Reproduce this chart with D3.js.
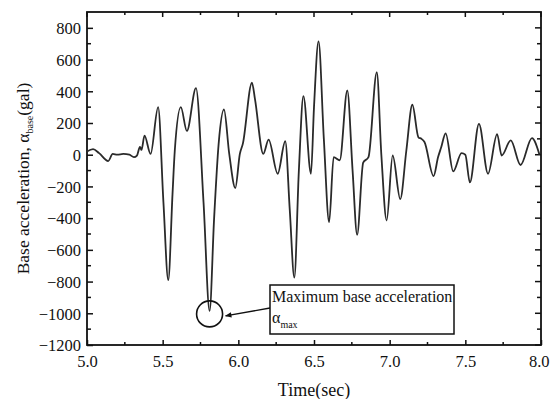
<!DOCTYPE html>
<html lang="en">
<head>
  <meta charset="UTF-8">
  <title>Base acceleration</title>
  <style>
    body {
      margin: 0;
      padding: 0;
      background-color: #ffffff;
    }
    svg text {
      font-family: "Liberation Serif", "Times New Roman", serif;
      fill: #111;
    }
  </style>
  <script src="https://d3js.org/d3.v7.min.js"></script>
</head>
<body>
  <div id="chart"></div>
  <script>
    // time (sec) and base acceleration (gal)
    const times = [5.00, 5.04, 5.08, 5.14, 5.17, 5.20, 5.24, 5.28, 5.31, 5.33, 5.35, 5.36, 5.38, 5.42,
      5.47, 5.505, 5.537, 5.565, 5.58, 5.62, 5.66, 5.72, 5.77, 5.81, 5.84, 5.87, 5.905, 5.94, 5.98,
      6.01, 6.03, 6.09, 6.11, 6.165, 6.20, 6.26, 6.31, 6.34, 6.37, 6.40, 6.43, 6.48, 6.50, 6.53,
      6.565, 6.60, 6.63, 6.67, 6.72, 6.755, 6.785, 6.825, 6.86, 6.915, 6.945, 6.98, 7.02, 7.07,
      7.11, 7.15, 7.19, 7.21, 7.23, 7.29, 7.32, 7.34, 7.37, 7.42, 7.475, 7.50, 7.53, 7.59, 7.65,
      7.71, 7.74, 7.80, 7.865, 7.94, 7.99];
    const accel = [20, 35, 10, -40, 5, 0, 5, 0, -15, -5, 50, 30, 120, 5,
      300, -300, -790, -250, 25, 300, 150, 420, -300, -985, -400, 70, 285, 5, -210,
      5, 70, 455, 350, 5, 95, -120, 85, -350, -775, -100, 370, -120, 300, 715,
      100, -425, -15, -35, 405, -100, -505, -50, -15, 520, 0, -415, -5, -280,
      25, 315, 110, 100, 80, -135, -15, 45, 135, -105, 10, 0, -175, 195, -120,
      130, -5, 90, -65, 105, 0];

    const xTicks = [5.0, 5.5, 6.0, 6.5, 7.0, 7.5, 8.0];
    const yTicks = [-1200, -1000, -800, -600, -400, -200, 0, 200, 400, 600, 800];

    const width = 550;
    const height = 399;
    const margin = { top: 12, right: 9, bottom: 54, left: 87 };

    const svg = d3.select("#chart")
      .append("svg")
      .attr("width", width)
      .attr("height", height);

    const x = d3.scaleLinear().domain([5, 8]).range([margin.left, width - margin.right]);
    const y = d3.scaleLinear().domain([-1200, 900]).range([height - margin.bottom, margin.top]);

    const data = times.map((t, i) => ({ t: t, v: accel[i] }));

    // minor ticks
    const xMinor = d3.range(5.25, 8, 0.5);
    const yMinor = d3.range(-1100, 900, 200);

    // axes (ticks point inward)
    const bottom = d3.axisBottom(x).tickValues(xTicks).tickFormat(d3.format(".1f")).tickSizeInner(-5).tickSizeOuter(0);
    const left = d3.axisLeft(y).tickValues(yTicks).tickFormat(d3.format("d")).tickSizeInner(-6).tickSizeOuter(0);

    const gx = svg.append("g").attr("transform", `translate(0,${y(-1200)})`).call(bottom);
    const gy = svg.append("g").attr("transform", `translate(${x(5)},0)`).call(left);
    [gx, gy].forEach(g => {
      g.select(".domain").remove();
      g.selectAll("line").attr("stroke", "#111").attr("stroke-width", 1.5);
      g.selectAll("text").style("font-size", "16.5px").attr("fill", "#111");
    });
    gy.selectAll("text").attr("x", -6).attr("dy", "0.35em");
    gx.selectAll("text").attr("y", 10).attr("dy", "0.71em");
    // last label sits at the page edge; keep it inside
    gx.selectAll("text").filter(d => d === 8).attr("text-anchor", "end").attr("x", width - 1 - x(8));

    const ticks = svg.append("g").attr("stroke", "#111").attr("stroke-width", 1.5);
    // top major + minor
    ticks.selectAll(".tt").data(xTicks).enter().append("line")
      .attr("x1", d => x(d)).attr("x2", d => x(d)).attr("y1", y(900)).attr("y2", y(900) + 5);
    ticks.selectAll(".tm").data(xMinor).enter().append("line")
      .attr("x1", d => x(d)).attr("x2", d => x(d)).attr("y1", y(900)).attr("y2", y(900) + 3);
    ticks.selectAll(".bm").data(xMinor).enter().append("line")
      .attr("x1", d => x(d)).attr("x2", d => x(d)).attr("y1", y(-1200)).attr("y2", y(-1200) - 3);
    // right major + minor
    ticks.selectAll(".rt").data(yTicks).enter().append("line")
      .attr("x1", x(8)).attr("x2", x(8) - 6).attr("y1", d => y(d)).attr("y2", d => y(d));
    ticks.selectAll(".rm").data(yMinor).enter().append("line")
      .attr("x1", x(8)).attr("x2", x(8) - 4).attr("y1", d => y(d)).attr("y2", d => y(d));
    ticks.selectAll(".lm").data(yMinor).enter().append("line")
      .attr("x1", x(5)).attr("x2", x(5) + 4).attr("y1", d => y(d)).attr("y2", d => y(d));

    // frame
    svg.append("rect")
      .attr("x", x(5)).attr("y", y(900))
      .attr("width", x(8) - x(5)).attr("height", y(-1200) - y(900))
      .attr("fill", "none").attr("stroke", "#111").attr("stroke-width", 1.8);

    // the record
    const line = d3.line()
      .x(d => x(d.t))
      .y(d => y(d.v))
      .curve(d3.curveMonotoneX);

    svg.append("path")
      .datum(data)
      .attr("fill", "none")
      .attr("stroke", "#2a2a2a")
      .attr("stroke-width", 1.8)
      .attr("d", line);

    // annotation of the peak
    const peak = data.reduce((a, b) => (b.v < a.v ? b : a));
    const cx = x(peak.t), cy = y(peak.v) + 3;
    svg.append("circle")
      .attr("cx", cx).attr("cy", cy).attr("r", 13)
      .attr("fill", "none").attr("stroke", "#111").attr("stroke-width", 1.6);

    svg.append("defs").append("marker")
      .attr("id", "arrow")
      .attr("viewBox", "0 0 10 10")
      .attr("refX", 9).attr("refY", 5)
      .attr("markerWidth", 7).attr("markerHeight", 5)
      .attr("orient", "auto")
      .append("path").attr("d", "M0,1 L10,5 L0,9 Z").attr("fill", "#111");

    const boxX = 270, boxY = 285, boxW = 184, boxH = 49;
    svg.append("line")
      .attr("x1", boxX).attr("y1", boxY + 23)
      .attr("x2", cx + 16).attr("y2", cy + 2)
      .attr("stroke", "#111").attr("stroke-width", 1.3)
      .attr("marker-end", "url(#arrow)");

    svg.append("rect")
      .attr("x", boxX).attr("y", boxY).attr("width", boxW).attr("height", boxH)
      .attr("fill", "#fff").attr("stroke", "#111").attr("stroke-width", 1.5);

    svg.append("text")
      .attr("x", boxX + 2).attr("y", boxY + 17)
      .style("font-size", "16px")
      .text("Maximum base acceleration");

    const amax = svg.append("text")
      .attr("x", boxX + 2).attr("y", boxY + 38)
      .style("font-size", "16px");
    amax.append("tspan").text("α");
    amax.append("tspan").attr("dy", 5).style("font-size", "10px").text("max");

    // axis titles
    svg.append("text")
      .attr("x", x(6.5)).attr("y", 396)
      .attr("text-anchor", "middle")
      .style("font-size", "18px")
      .text("Time(sec)");

    const ylab = svg.append("text")
      .attr("transform", `translate(29,${y(-150)}) rotate(-90)`)
      .attr("text-anchor", "middle")
      .style("font-size", "17.5px");
    ylab.append("tspan").text("Base acceleration, α");
    ylab.append("tspan").attr("dy", 4).style("font-size", "10px").text("base");
    ylab.append("tspan").attr("dy", -4).text("(gal)");
  </script>
</body>
</html>
